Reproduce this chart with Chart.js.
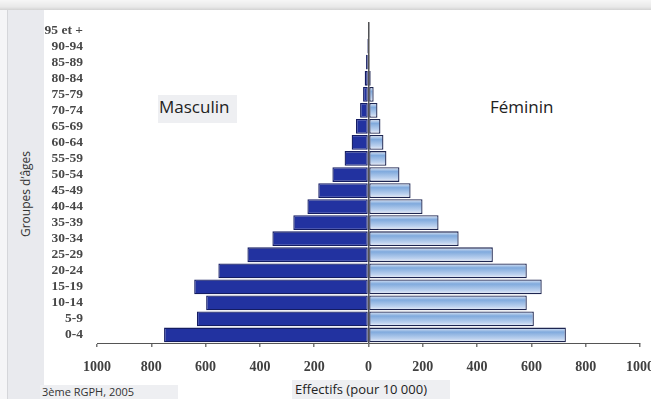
<!DOCTYPE html>
<html lang="fr">
<head>
<meta charset="utf-8">
<title>Pyramide des âges</title>
<script src="https://cdn.jsdelivr.net/npm/chart.js@4/dist/chart.umd.min.js"></script>
<style>
  html, body { margin: 0; padding: 0; }
  body { width: 651px; height: 399px; position: relative; overflow: hidden; background: #ffffff; font-family: "Open Sans", sans-serif; }
  .edge { position: absolute; left: 0; top: 0; width: 7px; height: 399px; background: #f5f5f7; }
  .strip { position: absolute; left: 7px; top: 0; width: 36px; height: 399px; background: #e9eaee; border-left: 1px solid #d5d6da; }
  .topband { position: absolute; left: 0; top: 0; width: 651px; height: 10px; background: linear-gradient(#f6f6f6, #e8e8e8 70%, #d2d2d2); }
  #wrap { position: absolute; left: 0; top: 0; width: 651px; height: 399px; }
  .lbl { position: absolute; white-space: nowrap; color: #222; }
  .box { background: #eeeff2; }
</style>
</head>
<body>
<div class="edge"></div>
<div class="strip"></div>
<div class="topband"></div>

<div class="lbl box" style="left:158px; top:95px; width:79px; height:28px; font-size:17px; line-height:24px; padding-left:1px; box-sizing:border-box;">Masculin</div>
<div class="lbl" style="left:490px; top:95px; font-size:17px; line-height:24px;">Féminin</div>
<div class="lbl" style="left:25px; top:194px; font-size:12px; color:#333; transform: translate(-50%, -50%) rotate(-90deg);">Groupes d’âges</div>
<div class="lbl box" style="left:292px; top:380px; width:158px; height:19px; font-size:13px; line-height:19px; padding-left:3px; box-sizing:border-box;">Effectifs (pour 10 000)</div>
<div class="lbl box" style="left:40px; top:385px; width:138px; height:14px; font-size:11px; line-height:14px; padding-left:2px; box-sizing:border-box; color:#333;">3ème RGPH, 2005</div>

<div id="wrap"><canvas id="pyramide" width="651" height="399"></canvas></div>

<script>
// Groupes d'âges, du plus jeune au plus âgé
const ageGroups = ["0-4", "5-9", "10-14", "15-19", "20-24", "25-29", "30-34", "35-39", "40-44", "45-49",
                   "50-54", "55-59", "60-64", "65-69", "70-74", "75-79", "80-84", "85-89", "90-94", "95 et +"];

// Effectifs pour 10 000 habitants
const masculin = [753, 632, 598, 642, 553, 446, 354, 277, 225, 185, 133, 88, 62, 46, 31, 20, 14, 9, 5, 3];
const feminin  = [727, 609, 583, 638, 583, 458, 332, 258, 199, 155, 114, 66, 55, 44, 33, 19, 8, 4, 2, 1];

// Graduations de l'axe des effectifs
const effectifTicks = [-1000, -800, -600, -400, -200, 0, 200, 400, 600, 800, 1000];

const barPct = 0.92;

// Dégradé vertical propre à chaque barre féminine
function femininFill(c) {
  const chart = c.chart;
  const y = chart.scales.y;
  if (!chart.chartArea || !y) return "#8fb4e2";
  const cy = y.getPixelForValue(c.dataIndex);
  const h = (chart.chartArea.bottom - chart.chartArea.top) / ageGroups.length * barPct;
  const g = chart.ctx.createLinearGradient(0, cy - h / 2, 0, cy + h / 2);
  g.addColorStop(0, "#e3eaf7");
  g.addColorStop(0.3, "#80aadd");
  g.addColorStop(0.75, "#bcd1ee");
  g.addColorStop(1, "#f0f1f8");
  return g;
}

new Chart(document.getElementById("pyramide"), {
  type: "bar",
  data: {
    labels: ageGroups,
    datasets: [
      {
        label: "Masculin",
        data: masculin.map(v => -v),
        backgroundColor: "#2232a0",
        borderColor: "#141c62",
        borderWidth: 1.3,
        borderSkipped: false,
        barPercentage: barPct,
        categoryPercentage: 1
      },
      {
        label: "Féminin",
        data: feminin,
        backgroundColor: femininFill,
        borderColor: "#1d2550",
        borderWidth: 1.3,
        borderSkipped: false,
        barPercentage: barPct,
        categoryPercentage: 1
      }
    ]
  },
  options: {
    indexAxis: "y",
    responsive: false,
    animation: false,
    layout: { padding: { top: 17, left: 0, right: 0, bottom: 0 } },
    plugins: { legend: { display: false }, tooltip: { enabled: false } },
    scales: {
      x: {
        stacked: true,
        min: -1000,
        max: 1000,
        afterBuildTicks: s => { s.ticks = effectifTicks.map(v => ({ value: v })); },
        afterFit: s => { s.height = 56; s.paddingRight = 11; },
        ticks: {
          callback: v => String(Math.abs(v)),
          font: { family: "Liberation Serif", weight: "bold", size: 14 },
          color: "#404040",
          padding: 12,
          maxRotation: 0
        },
        grid: {
          drawOnChartArea: true,
          color: c => (c.tick && c.tick.value === 0) ? "#555555" : "rgba(0,0,0,0)",
          lineWidth: 1.5,
          tickColor: "#777777",
          tickLength: 4
        },
        border: { display: true, color: "#555555", width: 1 }
      },
      y: {
        stacked: true,
        reverse: true,
        afterFit: s => { s.width = 97; },
        ticks: {
          font: { family: "Liberation Serif", weight: "bold", size: 13.5 },
          color: "#474747",
          padding: 14,
          autoSkip: false
        },
        grid: { display: false, drawTicks: false },
        border: { display: false }
      }
    }
  }
});
</script>
</body>
</html>
